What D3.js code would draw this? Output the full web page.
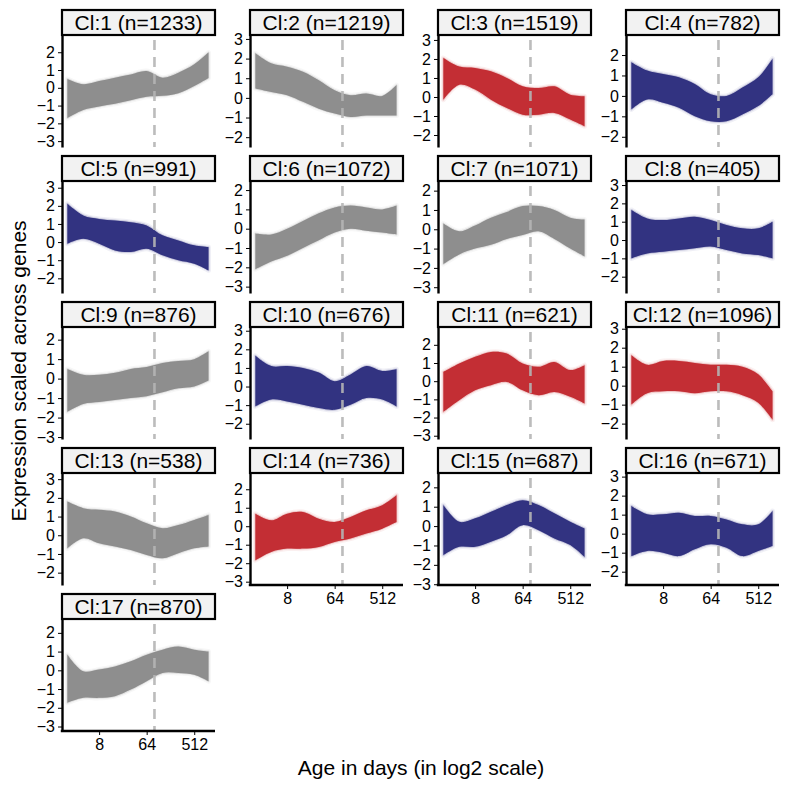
<!DOCTYPE html>
<html>
<head>
<meta charset="utf-8">
<script src="https://d3js.org/d3.v7.min.js"></script>
<style>
  body { margin: 0; background: #fff; }
  svg text { font-family: "Liberation Sans", Arial, sans-serif; }
  .axis path, .axis line { stroke: #000; }
</style>
</head>
<body>
<svg id="chart"></svg>
<script>
// ages (days) at which the band edges were read
const ages = [2, 4, 8, 16, 32, 64, 128, 256, 512, 955];
const clusterIds = d3.range(1, 18);
const clusterSizes = [1233, 1219, 1519, 782, 991, 1072, 1071, 405, 876, 676, 621, 1096, 538, 736, 687, 671, 870];
const clusterGroup = ["grey", "grey", "red", "blue", "blue", "grey", "grey", "blue", "grey",
                      "blue", "red", "red", "grey", "red", "blue", "blue", "grey"];
const xTicks = [8, 64, 512];
const cutoffAge = 90;

// upper / lower edge of the bundle of gene profiles, one row per cluster
const upperEdge = [
  [0.5, 0.2, 0.38, 0.57, 0.75, 0.94, 0.57, 0.85, 1.32, 1.98],
  [2.27, 1.76, 1.59, 1.33, 0.9, 0.39, 0.14, 0.22, 0.1, 0.65],
  [2.05, 1.6, 1.53, 1.35, 1.0, 0.56, 0.47, 0.56, 0.12, 0.04],
  [1.65, 1.24, 1.07, 0.91, 0.58, 0.08, 0.0, 0.41, 0.91, 1.82],
  [2.11, 1.47, 1.28, 1.19, 1.1, 0.92, 0.37, 0.09, -0.18, -0.28],
  [-0.25, -0.3, 0.0, 0.4, 0.8, 1.1, 1.2, 1.1, 1.0, 1.2],
  [0.3, -0.1, 0.2, 0.6, 0.9, 1.2, 1.2, 1.0, 0.6, 0.5],
  [1.64, 1.18, 1.09, 1.18, 1.27, 1.09, 0.82, 0.64, 0.64, 1.0],
  [0.5, 0.2, 0.2, 0.3, 0.5, 0.6, 0.8, 0.9, 1.0, 1.4],
  [1.65, 1.1, 1.1, 1.0, 0.75, 0.29, 0.65, 1.1, 0.84, 0.93],
  [0.51, 0.97, 1.34, 1.61, 1.52, 0.97, 0.79, 1.06, 0.61, 0.88],
  [1.6, 1.1, 1.3, 1.3, 1.2, 1.1, 1.1, 1.0, 0.6, -0.3],
  [1.8, 1.45, 1.36, 1.27, 1.0, 0.64, 0.38, 0.55, 0.82, 1.09],
  [0.68, 0.32, 0.68, 0.77, 0.41, 0.23, 0.5, 0.86, 1.14, 1.68],
  [1.09, 0.22, 0.4, 0.74, 1.09, 1.34, 1.09, 0.66, 0.22, -0.12],
  [1.46, 1.02, 1.02, 1.1, 0.93, 0.93, 0.75, 0.49, 0.49, 1.19],
  [0.83, -0.05, 0.04, 0.21, 0.48, 0.83, 1.1, 1.27, 1.1, 1.0]
];
const lowerEdge = [
  [-1.7, -1.25, -1.05, -0.9, -0.7, -0.5, -0.45, -0.3, 0.1, 0.55],
  [0.48, 0.3, 0.14, -0.2, -0.55, -0.8, -0.97, -0.9, -0.9, -0.9],
  [-0.14, 0.65, 0.39, -0.14, -0.58, -0.93, -0.93, -0.84, -1.19, -1.54],
  [-0.66, -0.17, -0.33, -0.58, -0.99, -1.24, -1.24, -0.91, -0.5, 0.08],
  [-0.09, 0.18, -0.09, -0.46, -0.55, -0.37, -0.73, -1.0, -1.19, -1.56],
  [-2.1, -1.7, -1.4, -1.0, -0.6, -0.2, 0.0, -0.1, -0.2, -0.3],
  [-1.8, -1.3, -1.0, -0.8, -0.5, -0.3, -0.1, -0.5, -1.0, -1.4],
  [-1.0, -0.73, -0.64, -0.55, -0.45, -0.36, -0.55, -0.73, -0.82, -1.0],
  [-1.7, -1.3, -1.2, -1.1, -1.0, -0.9, -0.7, -0.5, -0.4, -0.1],
  [-1.07, -0.7, -0.8, -0.98, -1.16, -1.25, -0.98, -0.62, -0.7, -1.07],
  [-1.69, -1.05, -0.5, -0.22, -0.04, -0.5, -0.77, -0.59, -0.86, -1.23],
  [-1.0, -0.4, -0.3, -0.3, -0.4, -0.3, -0.3, -0.5, -0.9, -1.8],
  [-0.7, -0.16, -0.43, -0.6, -0.79, -1.05, -1.23, -0.96, -0.7, -0.6],
  [-1.84, -1.39, -1.21, -1.21, -1.12, -0.85, -0.67, -0.4, -0.13, 0.23],
  [-1.5, -1.07, -1.07, -0.81, -0.47, 0.05, -0.21, -0.64, -0.98, -1.59],
  [-1.18, -0.91, -1.0, -1.18, -0.82, -0.56, -0.74, -1.18, -0.91, -0.65],
  [-1.73, -1.47, -1.47, -1.38, -1.03, -0.58, -0.14, -0.14, -0.23, -0.58]
];
// free y scale of each panel
const yLimits = [
  [-3.33, 2.97], [-2.5, 3.2], [-2.63, 3.26], [-2.5, 2.98],
  [-2.81, 3.37], [-3.33, 2.47], [-3.3, 2.5], [-2.89, 3.22],
  [-3.1, 2.65], [-2.82, 3.2], [-3.18, 2.98], [-2.81, 3.09],
  [-2.66, 3.33], [-3.18, 2.88], [-3.04, 2.74], [-2.7, 3.19],
  [-3.24, 2.74]
];
const groupColor = { grey: "#8a8a8a", red: "#c1272d", blue: "#2b2c7c" };

const W = 789, H = 789;
const nCol = 4;
const panelW = 153, plotH = 112, stripH = 25;
const colStep = 188, rowStep = 146;
const left0 = 62, top0 = 10;
const tickFont = 16;

const svg = d3.select("#chart").attr("width", W).attr("height", H);

const x = d3.scaleLog().base(2)
  .domain([Math.pow(2, 0.66), Math.pow(2, 10.31)])
  .range([0, panelW]);

const area = d3.area()
  .x(d => x(d.age))
  .curve(d3.curveCatmullRom.alpha(0.5));

clusterIds.forEach((id, i) => {
  const col = i % nCol, row = Math.floor(i / nCol);
  const px = left0 + col * colStep;
  const py = top0 + row * rowStep + stripH;
  const hasBelow = i + nCol < clusterIds.length;
  const color = groupColor[clusterGroup[i]];

  const y = d3.scaleLinear().domain(yLimits[i]).range([plotH, 0]);
  const rows = ages.map((a, k) => ({ age: a, hi: upperEdge[i][k], lo: lowerEdge[i][k] }));
  area.y0(d => y(d.lo)).y1(d => y(d.hi));

  const g = svg.append("g").attr("transform", `translate(${px},${py})`);

  g.append("clipPath").attr("id", "clip" + id)
    .append("rect").attr("width", panelW).attr("height", plotH);

  const band = g.append("g").attr("clip-path", `url(#clip${id})`);
  // faint outer lines
  band.append("path").datum(rows).attr("d", area)
    .attr("fill", color).attr("fill-opacity", 0.08)
    .attr("stroke", color).attr("stroke-opacity", 0.07)
    .attr("stroke-width", 5).attr("stroke-linejoin", "round");
  band.append("path").datum(rows).attr("d", area)
    .attr("fill", color).attr("fill-opacity", 0.3)
    .attr("stroke", color).attr("stroke-opacity", 0.2)
    .attr("stroke-width", 2).attr("stroke-linejoin", "round");
  // dense core
  band.append("path").datum(rows).attr("d", area)
    .attr("fill", color).attr("fill-opacity", 0.95);

  // reference age
  g.append("line")
    .attr("x1", x(cutoffAge)).attr("x2", x(cutoffAge))
    .attr("y1", 0).attr("y2", plotH)
    .attr("stroke", "#b5b5b5").attr("stroke-opacity", 0.9)
    .attr("stroke-width", 2.6).attr("stroke-dasharray", "10,7")
    .attr("stroke-dashoffset", -5);

  const yTicks = d3.range(Math.ceil(yLimits[i][0]), Math.floor(yLimits[i][1]) + 1);
  const gy = g.append("g").attr("class", "axis")
    .call(d3.axisLeft(y).tickValues(yTicks).tickFormat(d3.format("d"))
      .tickSize(4).tickSizeOuter(0).tickPadding(3));
  gy.attr("font-size", tickFont).attr("font-family", null);
  gy.selectAll("text").attr("fill", "#000");
  gy.select(".domain").attr("stroke-width", 2.4);

  if (!hasBelow) {
    const gx = g.append("g").attr("class", "axis")
      .attr("transform", `translate(0,${plotH})`)
      .call(d3.axisBottom(x).tickValues(xTicks).tickFormat(d3.format("d"))
        .tickSize(4).tickSizeOuter(0).tickPadding(4));
    gx.attr("font-size", tickFont).attr("font-family", null);
    gx.selectAll("text").attr("fill", "#000");
    gx.select(".domain").attr("stroke-width", 2.4).attr("d", `M-1.2,0H${panelW}`);
  }

  // strip
  const s = g.append("g").attr("transform", `translate(0,${-stripH})`);
  s.append("rect").attr("width", panelW).attr("height", stripH)
    .attr("fill", "#f2f2f2").attr("stroke", "#000").attr("stroke-width", 2.2);
  s.append("text").attr("x", panelW / 2).attr("y", stripH / 2 + 7.5)
    .attr("text-anchor", "middle").attr("font-size", 21)
    .text(`Cl:${id} (n=${clusterSizes[i]})`);
});

svg.append("text")
  .attr("transform", "translate(26,371) rotate(-90)")
  .attr("text-anchor", "middle").attr("font-size", 21)
  .text("Expression scaled across genes");

svg.append("text")
  .attr("x", 421).attr("y", 775)
  .attr("text-anchor", "middle").attr("font-size", 21)
  .text("Age in days (in log2 scale)");
</script>
</body>
</html>
